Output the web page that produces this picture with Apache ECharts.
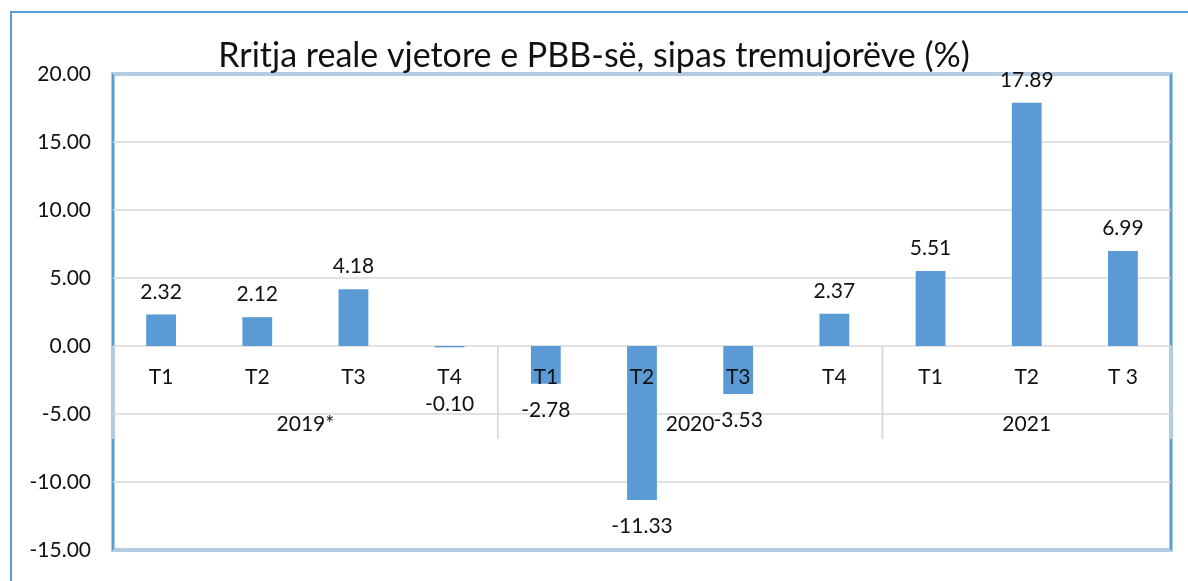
<!DOCTYPE html>
<html>
<head>
<meta charset="UTF-8">
<script src="https://cdn.jsdelivr.net/npm/echarts@6/dist/echarts.min.js"></script>
<style>
  html, body { margin: 0; padding: 0; background: #fff; }
  #main { width: 1188px; height: 581px; }
</style>
</head>
<body>
<div id="main"></div>
<script>
// quarters along the axis, growth values (%) and the year groups below them
var quarters = ['T1', 'T2', 'T3', 'T4', 'T1', 'T2', 'T3', 'T4', 'T1', 'T2', 'T 3'];
var growth = [2.32, 2.12, 4.18, -0.10, -2.78, -11.33, -3.53, 2.37, 5.51, 17.89, 6.99];
var years = ['2019*', '2020', '2021'];
var yearSpans = [4, 4, 3];

var FONT = 'Lato';
var BLUE = '#5B9BD5';
var GRID_GRAY = '#d9d9d9';
var TXT = '#111';

// year groups as [start, end] on a 0..11 value axis
var groups = [];
var pos = 0;
for (var i = 0; i < years.length; i++) {
    groups.push([pos, pos + yearSpans[i]]);
    pos += yearSpans[i];
}

var barData = growth.map(function (v) {
    var neg = v < 0;
    return {
        value: v,
        label: {
            position: neg ? 'bottom' : 'top',
            distance: neg ? (Math.abs(v) < 1 ? 46 : 16) : 12
        }
    };
});

var myChart = echarts.init(document.getElementById('main'));
var option = {
    animation: false,
    backgroundColor: '#fff',
    textStyle: { fontFamily: FONT },
    title: {
        text: 'Rritja reale vjetore e PBB-së, sipas tremujorëve (%)',
        left: 'center',
        top: 34,
        textStyle: { fontFamily: FONT, fontSize: 34, fontWeight: 'normal', color: TXT }
    },
    graphic: [{
        type: 'rect',
        z: -10,
        shape: { x: 11, y: 12, width: 1200, height: 600 },
        style: { fill: 'none', stroke: BLUE, lineWidth: 2 }
    }],
    grid: {
        left: 113, top: 74, right: 17, bottom: 31,
        outerBoundsMode: 'none',
        show: true, borderColor: BLUE, borderWidth: 3, backgroundColor: '#fff'
    },
    xAxis: [{
        type: 'category',
        data: quarters,
        axisLine: { show: false },
        axisTick: { show: false },
        axisLabel: { show: false }
    }, {
        type: 'value',
        min: 0,
        max: 11,
        show: false
    }],
    yAxis: {
        type: 'value',
        min: -15,
        max: 20,
        interval: 5,
        axisLine: { show: false },
        axisTick: { show: false },
        splitLine: { lineStyle: { color: GRID_GRAY, width: 1.5 } },
        axisLabel: {
            margin: 22, fontSize: 21, color: TXT, fontFamily: FONT,
            formatter: function (v) { return v.toFixed(2); }
        }
    },
    series: [{
        type: 'bar',
        data: barData,
        barWidth: '31%',
        itemStyle: { color: BLUE },
        z: 2,
        label: {
            show: true,
            fontSize: 21,
            color: TXT,
            fontFamily: FONT,
            formatter: function (p) { return p.value.toFixed(2); }
        }
    }, {
        // quarter labels sitting just under the zero line, drawn over the bars
        type: 'custom',
        xAxisIndex: 0,
        yAxisIndex: 0,
        z: 5,
        silent: true,
        data: quarters.map(function (q, i) { return [i, 0]; }),
        renderItem: function (params, api) {
            var p = api.coord([api.value(0), 0]);
            return {
                type: 'text',
                style: {
                    text: quarters[params.dataIndex],
                    x: p[0],
                    y: p[1] + 31,
                    align: 'center',
                    verticalAlign: 'middle',
                    textAlign: 'center',
                    textVerticalAlign: 'middle',
                    fontSize: 21,
                    fontFamily: FONT,
                    fill: TXT
                }
            };
        }
    }, {
        // year groups with separators
        type: 'custom',
        xAxisIndex: 1,
        yAxisIndex: 0,
        z: 4,
        silent: true,
        data: groups,
        renderItem: function (params, api) {
            var p0 = api.coord([api.value(0), 0]);
            var p1 = api.coord([api.value(1), 0]);
            var lineStyle = { stroke: GRID_GRAY, lineWidth: 1.5 };
            return {
                type: 'group',
                children: [{
                    type: 'line',
                    shape: { x1: p0[0], y1: p0[1], x2: p0[0], y2: p0[1] + 93 },
                    style: lineStyle
                }, {
                    type: 'line',
                    shape: { x1: p1[0], y1: p1[1], x2: p1[0], y2: p1[1] + 93 },
                    style: lineStyle
                }, {
                    type: 'text',
                    style: {
                        text: years[params.dataIndex],
                        x: (p0[0] + p1[0]) / 2,
                        y: p0[1] + 78,
                        align: 'center',
                        verticalAlign: 'middle',
                        textAlign: 'center',
                        textVerticalAlign: 'middle',
                        fontSize: 21,
                        fontFamily: FONT,
                        fill: TXT
                    }
                }]
            };
        }
    }]
};
myChart.setOption(option);
</script>
</body>
</html>
